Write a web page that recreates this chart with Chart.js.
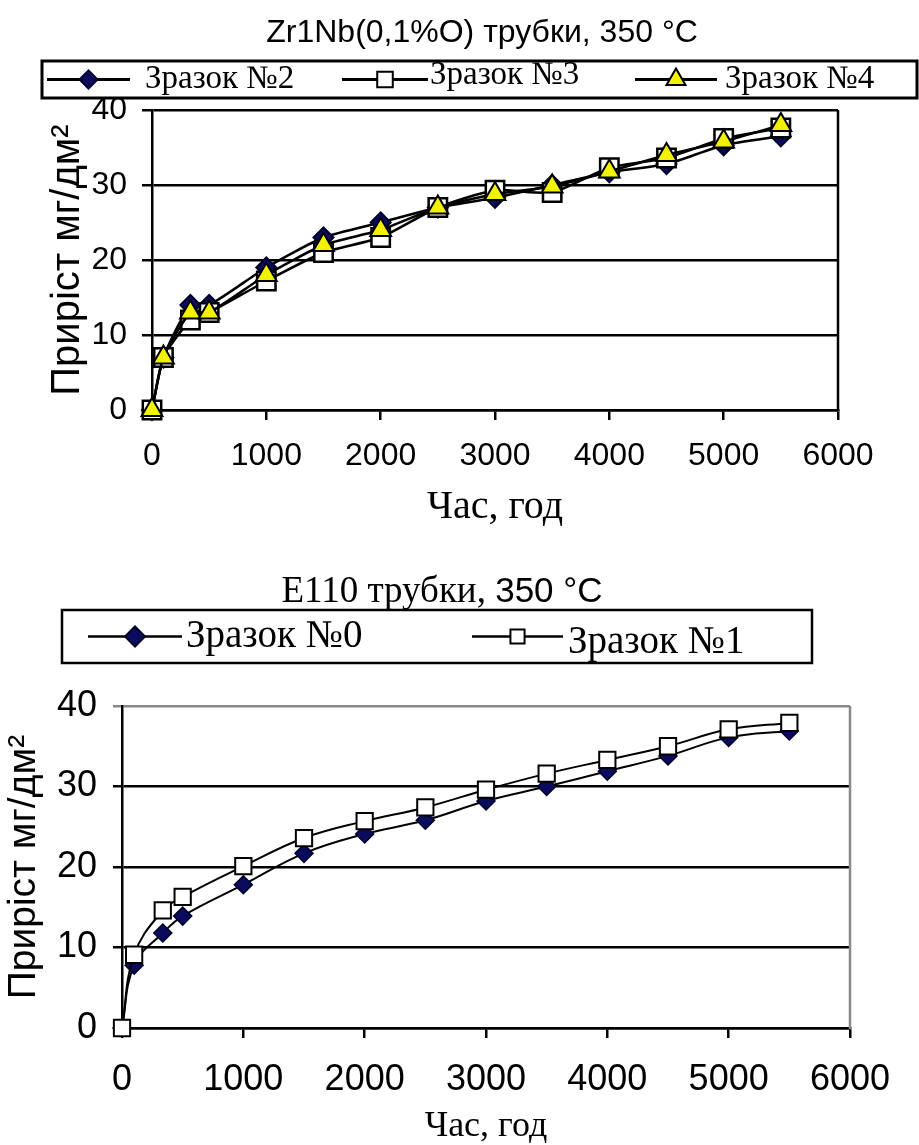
<!DOCTYPE html>
<html>
<head>
<meta charset="utf-8">
<script src="https://cdn.jsdelivr.net/npm/chart.js@4.4.0/dist/chart.umd.min.js"></script>
<style>
  body { margin: 0; background: #fff; }
  .wrap { position: absolute; left: 0; width: 919px; }
  #topWrap { top: 0; height: 545px; }
  #bottomWrap { top: 545px; height: 600px; }
</style>
</head>
<body>
<div class="wrap" id="topWrap"><canvas id="chartTop"></canvas></div>
<div class="wrap" id="bottomWrap"><canvas id="chartBottom"></canvas></div>
<script>
// exposure time, hours
var hours = [0, 100, 336, 500, 1000, 1500, 2000, 2500, 3000, 3500, 4000, 4500, 5000, 5500];

// Zr1Nb(0,1%O) tubes, weight gain mg/dm2
var sample2 = [0, 7, 14, 14, 19, 23, 25, 27, 28.3, 30, 31.7, 32.8, 35.3, 36.5];
var sample3 = [0, 7, 12, 13, 17.2, 21, 23, 27, 29.3, 29, 32.3, 33.6, 36.2, 37.6];
var sample4 = [0, 7, 13, 13, 18, 22, 24, 27, 28.8, 29.8, 31.8, 34, 35.8, 38];

// E110 tubes
var sample0 = [0, 7.8, 11.8, 13.9, 17.8, 21.7, 24.1, 25.8, 28.2, 30, 31.9, 33.8, 36.1, 36.9];
var sample1 = [0, 9.1, 14.6, 16.3, 20.1, 23.6, 25.7, 27.4, 29.6, 31.6, 33.3, 35, 37.1, 37.9];

var xTicks = [0, 1000, 2000, 3000, 4000, 5000, 6000];
var yTicks = [0, 10, 20, 30, 40];

var SANS = "'Liberation Sans', Arial, sans-serif";
var SERIF = "'Liberation Serif', 'Times New Roman', serif";

function points(ys) {
  return hours.map(function (h, i) { return { x: h, y: ys[i] }; });
}

// boxed legend: line + marker + label for each dataset
var boxLegend = {
  id: 'boxLegend',
  afterDraw: function (chart, args, o) {
    var ctx = chart.ctx;
    var cy = o.y + o.h / 2;
    ctx.save();
    ctx.fillStyle = '#fff';
    ctx.fillRect(o.x, o.y, o.w, o.h);
    ctx.lineWidth = o.border;
    ctx.strokeStyle = '#000';
    ctx.strokeRect(o.x, o.y, o.w, o.h);
    chart.data.datasets.forEach(function (ds, i) {
      var it = o.items[i];
      ctx.beginPath();
      ctx.moveTo(it.line[0], cy);
      ctx.lineTo(it.line[1], cy);
      ctx.strokeStyle = '#000';
      ctx.lineWidth = o.lineWidth;
      ctx.stroke();
      ctx.fillStyle = ds.pointBackgroundColor;
      ctx.strokeStyle = ds.pointBorderColor;
      ctx.lineWidth = o.markerBorder;
      Chart.helpers.drawPoint(ctx, { pointStyle: ds.pointStyle, radius: it.r, borderWidth: o.markerBorder, rotation: 0 },
        (it.line[0] + it.line[1]) / 2, cy);
      ctx.fillStyle = '#000';
      ctx.font = o.font;
      ctx.textBaseline = 'middle';
      ctx.textAlign = 'left';
      ctx.fillText(ds.label, it.text, cy + (it.dy || 0));
    });
    ctx.restore();
  }
};

// right edge of the plot box
var plotFrame = {
  id: 'plotFrame',
  beforeDatasetsDraw: function (chart, args, o) {
    var a = chart.chartArea, ctx = chart.ctx;
    ctx.save();
    ctx.strokeStyle = o.color;
    ctx.lineWidth = o.width;
    ctx.beginPath();
    ctx.moveTo(a.right, a.top);
    ctx.lineTo(a.right, a.bottom + 1);
    ctx.stroke();
    ctx.restore();
  }
};

// chart heading, possibly set in two fonts
var splitTitle = {
  id: 'splitTitle',
  afterDraw: function (chart, args, o) {
    if (!o.parts) return;
    var ctx = chart.ctx;
    ctx.save();
    ctx.fillStyle = '#000';
    ctx.textBaseline = 'alphabetic';
    ctx.textAlign = 'left';
    var widths = o.parts.map(function (p) { ctx.font = p.font; return ctx.measureText(p.text).width; });
    var total = widths.reduce(function (a, b) { return a + b; }, 0);
    var x = o.cx - total / 2;
    o.parts.forEach(function (p, i) {
      ctx.font = p.font;
      ctx.fillText(p.text, x, o.y);
      x += widths[i];
    });
    ctx.restore();
  }
};

function plain(v) { return String(v); }

function xScale(height, tickFont, tickPad, titleFont, titlePadBottom, lw) {
  return {
    type: 'linear', min: 0, max: 6000,
    afterBuildTicks: function (s) { s.ticks = xTicks.map(function (v) { return { value: v }; }); },
    afterFit: function (s) { s.height = height; },
    grid: { drawOnChartArea: false, drawTicks: true, tickLength: 10, color: '#000', lineWidth: lw },
    border: { color: '#000', width: lw },
    ticks: { color: '#000', font: tickFont, padding: tickPad, maxRotation: 0, autoSkip: false, callback: plain },
    title: { display: true, text: 'Час, год', color: '#000', font: titleFont, padding: { top: 0, bottom: titlePadBottom } }
  };
}

function yScale(width, tickFont, tickPad, tickLen, titleFont, titlePadTop, lw, gridColor) {
  return {
    min: 0, max: 40,
    afterBuildTicks: function (s) { s.ticks = yTicks.map(function (v) { return { value: v }; }); },
    afterFit: function (s) { s.width = width; },
    grid: { color: gridColor, lineWidth: lw, tickLength: tickLen, drawTicks: true },
    border: { color: '#000', width: lw },
    ticks: { color: '#000', font: tickFont, padding: tickPad, callback: plain },
    title: { display: true, text: 'Приріст мг/дм²', color: '#000', font: titleFont, padding: { top: titlePadTop, bottom: 0 } }
  };
}

function series(label, data, style, fill, radius, order, lw, bw, tension) {
  return {
    label: label,
    data: points(data),
    borderColor: '#000',
    borderWidth: lw,
    pointStyle: style,
    pointRadius: radius,
    pointBackgroundColor: fill,
    pointBorderColor: style === 'rectRot' ? '#00002a' : '#000',
    pointBorderWidth: bw,
    tension: tension,
    order: order,
    clip: false
  };
}

new Chart(document.getElementById('chartTop'), {
  type: 'line',
  data: {
    datasets: [
      series('Зразок №2', sample2, 'rectRot', '#0b0b5e', 10, 3, 2.5, 2, 0.2),
      series('Зразок №3', sample3, 'rect', '#ffffff', 13, 2, 2.5, 2.5, 0.2),
      series('Зразок №4', sample4, 'triangle', '#f2f200', 12, 1, 2.5, 2, 0.2)
    ]
  },
  options: {
    responsive: true,
    maintainAspectRatio: false,
    animation: false,
    layout: { padding: { top: 110, left: 0, right: 81, bottom: 0 } },
    scales: {
      x: xScale(135, { family: SANS, size: 32 }, 17, { family: SERIF, size: 40 }, 13.5, 2.5),
      y: yScale(152, { family: SANS, size: 32 }, 15, 10, { family: SANS, size: 40 }, 44, 2.5, '#000')
    },
    plugins: {
      legend: { display: false },
      tooltip: { enabled: false },
      title: { display: false },
      plotFrame: { color: '#000', width: 2.5 },
      splitTitle: {
        cx: 482, y: 42,
        parts: [{ text: 'Zr1Nb(0,1%O) трубки, 350 °C', font: '32px ' + SANS }]
      },
      boxLegend: {
        x: 42, y: 61, w: 875, h: 37, border: 3, lineWidth: 3, markerBorder: 2,
        font: '33px ' + SERIF,
        items: [
          { line: [47, 130], r: 9, text: 145 },
          { line: [342, 428], r: 11, text: 430, dy: -4 },
          { line: [635, 717], r: 11, text: 725 }
        ]
      }
    }
  },
  plugins: [boxLegend, plotFrame, splitTitle]
});

new Chart(document.getElementById('chartBottom'), {
  type: 'line',
  data: {
    datasets: [
      series('Зразок №0', sample0, 'rectRot', '#0b0b5e', 9, 2, 2, 1.5, 0.4),
      series('Зразок №1', sample1, 'rect', '#ffffff', 11.5, 1, 2, 2, 0.4)
    ]
  },
  options: {
    responsive: true,
    maintainAspectRatio: false,
    animation: false,
    layout: { padding: { top: 161, left: 0, right: 69, bottom: 0 } },
    scales: {
      x: xScale(117, { family: SANS, size: 36 }, 20, { family: SERIF, size: 36, lineHeight: 1 }, 0, 2.5),
      y: yScale(122, { family: SANS, size: 36 }, 16, 9, { family: SANS, size: 39 }, 1, 2.5,
        function (c) { return c.tick && c.tick.value === 40 ? '#8a8a8a' : '#000'; })
    },
    plugins: {
      legend: { display: false },
      tooltip: { enabled: false },
      title: { display: false },
      plotFrame: { color: '#8a8a8a', width: 2.5 },
      splitTitle: {
        cx: 442, y: 57,
        parts: [
          { text: 'E110 трубки, ', font: '37px ' + SERIF },
          { text: '350 °C', font: '35px ' + SANS }
        ]
      },
      boxLegend: {
        x: 62, y: 65, w: 750, h: 53, border: 2.5, lineWidth: 2.5, markerBorder: 2,
        font: '39px ' + SERIF,
        items: [
          { line: [88, 182], r: 10, text: 186 },
          { line: [472, 563], r: 10, text: 568, dy: 6 }
        ]
      }
    }
  },
  plugins: [boxLegend, plotFrame, splitTitle]
});
</script>
</body>
</html>
